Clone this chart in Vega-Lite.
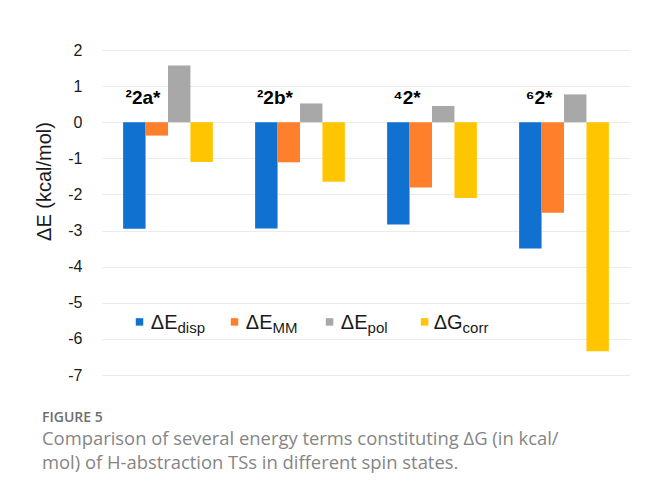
{
  "$schema": "https://vega.github.io/schema/vega-lite/v6.json",
  "width": 528,
  "height": 325,
  "autosize": "none",
  "padding": {"left": 102, "top": 50, "right": 16, "bottom": 113},
  "background": "white",
  "config": {
    "view": {"stroke": null},
    "font": "Liberation Sans",
    "axisY": {
      "tickCount": 10,
      "labelOverlap": false,
      "labelExpr": "'' + datum.value",
      "ticks": false,
      "domain": false,
      "labelPadding": 20,
      "labelFontSize": 16,
      "labelColor": "#1a1a1a",
      "labelFont": "Liberation Sans",
      "gridColor": "#ebebeb",
      "gridWidth": 1,
      "titleFont": "Liberation Sans",
      "titleFontSize": 20,
      "titleFontWeight": "normal",
      "titleColor": "#1a1a1a",
      "titleX": -52,
      "titleY": 131,
      "titleAngle": -90,
      "titleAlign": "center",
      "titleBaseline": "alphabetic"
    }
  },
  "title": {
    "text": "FIGURE 5",
    "subtitle": ["Comparison of several energy terms constituting ΔG (in kcal/", "mol) of H-abstraction TSs in different spin states."],
    "orient": "bottom",
    "anchor": "start",
    "frame": "group",
    "dx": -60,
    "offset": 28,
    "font": "Open Sans",
    "fontSize": 14,
    "fontWeight": 600,
    "color": "#6e6e6e",
    "subtitleFont": "Open Sans",
    "subtitleFontSize": 18.4,
    "subtitleFontWeight": "normal",
    "subtitleColor": "#858585",
    "subtitlePadding": 5,
    "subtitleLineHeight": 23.6
  },
  "datasets": {
    "bars": [
      {"group": "²2a*", "term": "disp", "value": -2.95},
      {"group": "²2a*", "term": "MM", "value": -0.37},
      {"group": "²2a*", "term": "pol", "value": 1.57},
      {"group": "²2a*", "term": "corr", "value": -1.10},
      {"group": "²2b*", "term": "disp", "value": -2.94},
      {"group": "²2b*", "term": "MM", "value": -1.11},
      {"group": "²2b*", "term": "pol", "value": 0.52},
      {"group": "²2b*", "term": "corr", "value": -1.65},
      {"group": "⁴2*", "term": "disp", "value": -2.83},
      {"group": "⁴2*", "term": "MM", "value": -1.81},
      {"group": "⁴2*", "term": "pol", "value": 0.45},
      {"group": "⁴2*", "term": "corr", "value": -2.10},
      {"group": "⁶2*", "term": "disp", "value": -3.50},
      {"group": "⁶2*", "term": "MM", "value": -2.51},
      {"group": "⁶2*", "term": "pol", "value": 0.77},
      {"group": "⁶2*", "term": "corr", "value": -6.34}
    ],
    "legend": [
      {"term": "disp", "main": "ΔE", "sub": "disp"},
      {"term": "MM", "main": "ΔE", "sub": "MM"},
      {"term": "pol", "main": "ΔE", "sub": "pol"},
      {"term": "corr", "main": "ΔG", "sub": "corr"}
    ]
  },
  "resolve": {"scale": {"x": "independent"}},
  "layer": [
    {
      "data": {"name": "bars"},
      "layer": [
        {
          "mark": {"type": "bar"},
          "encoding": {
            "x": {"field": "group", "type": "nominal", "sort": null, "scale": {"paddingInner": 0.32, "paddingOuter": 0.16}, "axis": null},
            "xOffset": {"field": "term", "type": "nominal", "sort": ["disp", "MM", "pol", "corr"], "scale": {"paddingInner": 0, "paddingOuter": 0}},
            "y": {
              "field": "value",
              "type": "quantitative",
              "scale": {"domain": [-7, 2], "nice": false},
              "axis": {"title": "ΔE (kcal/mol)"}
            },
            "color": {
              "field": "term",
              "type": "nominal",
              "scale": {"domain": ["disp", "MM", "pol", "corr"], "range": ["#1171D1", "#FF7F2A", "#A8A8A8", "#FFC600"]},
              "legend": null
            }
          }
        },
        {
          "transform": [{"filter": "datum.term === 'disp'"}],
          "mark": {"type": "text", "font": "Liberation Sans", "fontWeight": "bold", "fontSize": 19, "color": "#000000", "align": "center", "baseline": "alphabetic", "dx": -25, "dy": -18},
          "encoding": {
            "x": {"field": "group", "type": "nominal", "sort": null, "scale": {"paddingInner": 0.32, "paddingOuter": 0.16}, "axis": null},
            "y": {"datum": 0, "type": "quantitative", "axis": {"title": "ΔE (kcal/mol)"}},
            "text": {"field": "group"}
          }
        }
      ]
    },
    {
      "data": {"name": "legend"},
      "encoding": {
        "x": {"field": "term", "type": "nominal", "sort": null, "scale": {"type": "point", "padding": 0, "range": [37.5, 322.6]}, "axis": null}
      },
      "layer": [
        {
          "mark": {"type": "square", "size": 56, "opacity": 1, "filled": true},
          "encoding": {
            "y": {"datum": -5.53, "type": "quantitative", "axis": {"title": "ΔE (kcal/mol)"}},
            "color": {"field": "term", "type": "nominal", "legend": null}
          }
        },
        {
          "mark": {"type": "text", "font": "Liberation Sans", "fontSize": 20, "color": "#1a1a1a", "align": "right", "baseline": "alphabetic", "dx": 38},
          "encoding": {
            "y": {"datum": -5.72, "type": "quantitative", "axis": {"title": "ΔE (kcal/mol)"}},
            "text": {"field": "main"}
          }
        },
        {
          "mark": {"type": "text", "font": "Liberation Sans", "fontSize": 15, "color": "#1a1a1a", "align": "left", "baseline": "alphabetic", "dx": 38},
          "encoding": {
            "y": {"datum": -5.83, "type": "quantitative", "axis": {"title": "ΔE (kcal/mol)"}},
            "text": {"field": "sub"}
          }
        }
      ]
    }
  ]
}
